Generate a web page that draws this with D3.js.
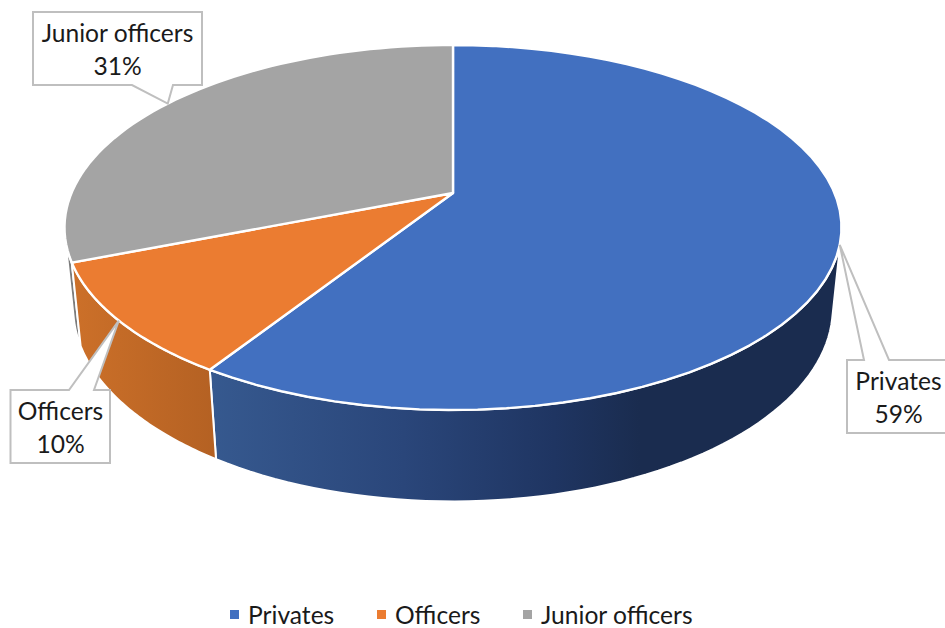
<!DOCTYPE html>
<html>
<head>
<meta charset="utf-8">
<title>Personnel by rank</title>
<script src="https://cdnjs.cloudflare.com/ajax/libs/d3/7.8.5/d3.min.js"></script>
<style>
  html, body { margin: 0; padding: 0; background: #fff; }
  svg { display: block; }
  text { font-family: Lato, "Open Sans", sans-serif; fill: #1a1a1a; }
</style>
</head>
<body>
<svg id="chart" width="945" height="628"></svg>
<script>
// Chart data
const categories = ["Privates", "Officers", "Junior officers"];
const shares = [59, 10, 31];
const topColors = ["#4270C0", "#EB7C31", "#A4A4A4"];

const svg = d3.select("#chart");
const FONT = 24.6;

// Perspective model of the disc: u runs right, v toward the viewer, z down the wall
const view = { cx: 453, cy: 193, a: 381.5, b: 176, depth: 81, k: 0.189, m: 0.0222 };

function project(angle, z) {
  const u = Math.sin(angle), v = -Math.cos(angle);
  const w = 1 - view.k * v + view.m * z;
  return [view.cx + view.a * u / w, view.cy + (view.b * v + view.depth * z) / w];
}

// Wall generators face the camera only where v exceeds 1 / camV
const camV = (view.depth / view.b) / (view.k * view.depth / view.b + view.m);
const wallRange = [Math.PI / 2 + Math.asin(1 / camV), 3 * Math.PI / 2 - Math.asin(1 / camV)];

const pie = d3.pie().sort(null).startAngle(0).endAngle(2 * Math.PI);
const arcs = pie(shares);
const steps = a => d3.range(0, 61).map(i => a[0] + (a[1] - a[0]) * i / 60);
const line = d3.line();

// Side wall shading runs left to right along the visible rim
const defs = svg.append("defs");
const wallStops = [
  [{ o: 0, c: "#36598F" }, { o: 0.45, c: "#2A467A" }, { o: 0.8, c: "#1F3562" }, { o: 1, c: "#1A2C4F" }],
  [{ o: 0, c: "#CC7029" }, { o: 1, c: "#B46123" }],
  [{ o: 0, c: "#7C7C7C" }, { o: 1, c: "#7C7C7C" }]
];
const wallExtents = [[210, 640], [72, 216], [64, 82]];
categories.forEach((name, i) => {
  const g = defs.append("linearGradient")
    .attr("id", "wall" + i)
    .attr("gradientUnits", "userSpaceOnUse")
    .attr("x1", wallExtents[i][0]).attr("x2", wallExtents[i][1])
    .attr("y1", 0).attr("y2", 0);
  wallStops[i].forEach(s => g.append("stop").attr("offset", s.o).attr("stop-color", s.c));
});

// Walls first, from the back round to the front
const wallOrder = [2, 0, 1];
wallOrder.forEach(i => {
  const from = Math.max(arcs[i].startAngle, wallRange[0]);
  const to = Math.min(arcs[i].endAngle, wallRange[1]);
  if (to <= from) return;
  const t = steps([from, to]);
  const outline = t.map(a => project(a, 0)).concat(t.slice().reverse().map(a => project(a, 1)));
  svg.append("path")
    .attr("d", line(outline) + "Z")
    .attr("fill", `url(#wall${i})`)
    .attr("stroke", "#fff")
    .attr("stroke-width", 2)
    .attr("stroke-linejoin", "round");
});

// Top face of each slice
arcs.forEach((d, i) => {
  const rim = steps([d.startAngle, d.endAngle]).map(a => project(a, 0));
  svg.append("path")
    .attr("d", line([[view.cx, view.cy], ...rim]) + "Z")
    .attr("fill", topColors[i])
    .attr("stroke", "#fff")
    .attr("stroke-width", 2.4)
    .attr("stroke-linejoin", "round");
});

// Callouts: box, wedge pointing to the slice's mid-angle on the rim
const calloutBoxes = [
  { x: 847, y: 360, w: 100, h: 73, wedge: [864, 889], edge: "top" },
  { x: 10.5, y: 390, w: 99.5, h: 73, wedge: [69, 94], edge: "top" },
  { x: 33, y: 12, w: 169, h: 73, wedge: [132, 173], edge: "bottom" }
];
const labelCenters = [898.5, 60.5, 117.5];

arcs.forEach((d, i) => {
  const b = calloutBoxes[i];
  const tip = project((d.startAngle + d.endAngle) / 2, 0);
  const ey = b.edge === "top" ? b.y : b.y + b.h;
  const r = b.x + b.w, btm = b.y + b.h;
  const outline = b.edge === "top"
    ? [[b.x, b.y], [b.wedge[0], ey], tip, [b.wedge[1], ey], [r, b.y], [r, btm], [b.x, btm]]
    : [[b.x, b.y], [r, b.y], [r, btm], [b.wedge[1], ey], tip, [b.wedge[0], ey], [b.x, btm]];
  svg.append("path")
    .attr("d", line(outline) + "Z")
    .attr("fill", "#fff")
    .attr("stroke", "#BFBFBF")
    .attr("stroke-width", 2)
    .attr("stroke-linejoin", "miter");
  const t = svg.append("text").attr("text-anchor", "middle").attr("font-size", FONT);
  t.append("tspan").attr("x", labelCenters[i]).attr("y", b.y + 30).text(categories[i]);
  t.append("tspan").attr("x", labelCenters[i]).attr("y", b.y + 63).text(d3.format("d")(shares[i]) + "%");
});

// Legend along the bottom
const legendX = [230, 377, 523];
categories.forEach((name, i) => {
  svg.append("rect")
    .attr("x", legendX[i]).attr("y", 610).attr("width", 9).attr("height", 9)
    .attr("fill", topColors[i]);
  svg.append("text")
    .attr("x", legendX[i] + 18).attr("y", 624)
    .attr("font-size", FONT)
    .text(name);
});
</script>
</body>
</html>
